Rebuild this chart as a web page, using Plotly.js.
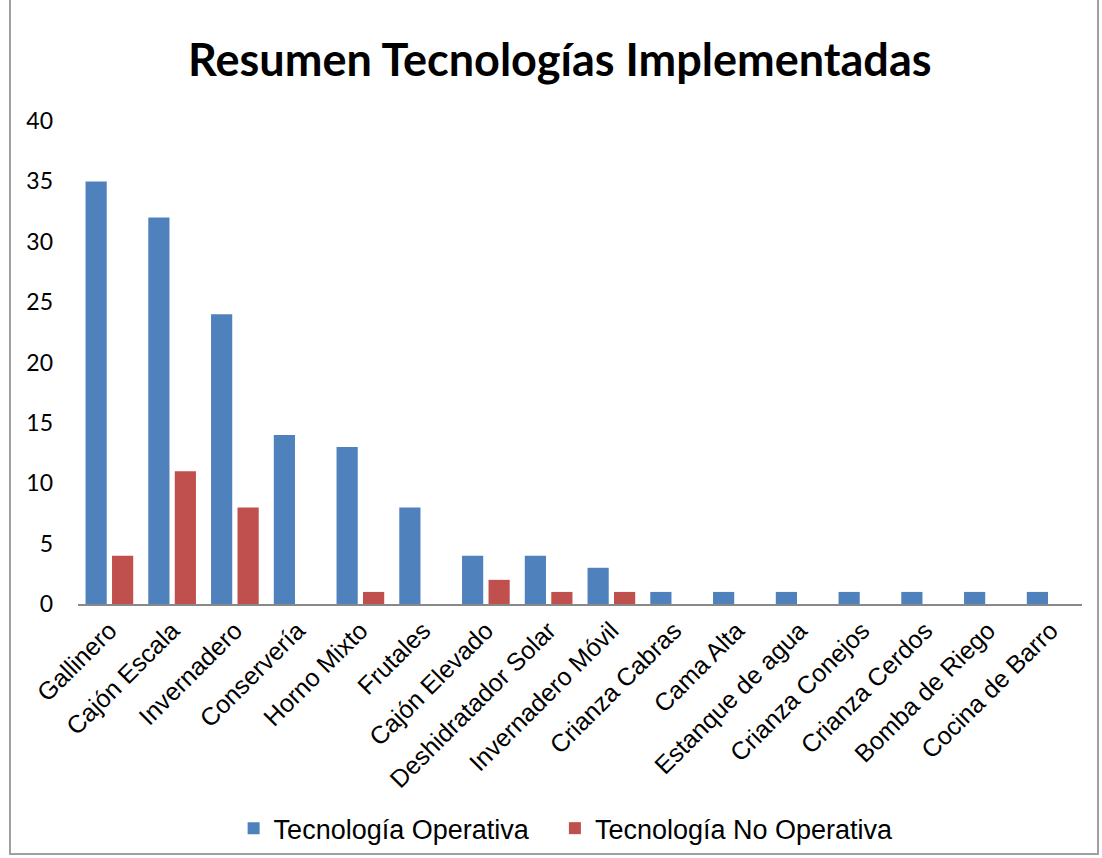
<!DOCTYPE html>
<html>
<head>
<meta charset="utf-8">
<script src="https://cdn.plot.ly/plotly-3.0.1.min.js"></script>
<style>
  html, body { margin: 0; padding: 0; background: #fff; }
  #frame { position: absolute; left: 9px; top: -2px; width: 1090px; height: 857px; border: 2px solid #a0a0a0; box-sizing: border-box; pointer-events: none; }
  #chart { width: 1102px; height: 858px; }
</style>
</head>
<body>
<div id="chart"></div>
<div id="frame"></div>
<script>
const categories = ["Gallinero", "Cajón Escala", "Invernadero", "Conservería", "Horno Mixto", "Frutales", "Cajón Elevado", "Deshidratador Solar", "Invernadero Móvil", "Crianza Cabras", "Cama Alta", "Estanque de agua", "Crianza Conejos", "Crianza Cerdos", "Bomba de Riego", "Cocina de Barro"];
const operativa = [35, 32, 24, 14, 13, 8, 4, 4, 3, 1, 1, 1, 1, 1, 1, 1];
const noOperativa = [4, 11, 8, 0, 1, 0, 2, 1, 1, 0, 0, 0, 0, 0, 0, 0];
const yTicks = [0, 5, 10, 15, 20, 25, 30, 35, 40];

const traces = [
  { type: "bar", name: "Tecnología Operativa", x: categories, y: operativa, legend: "legend",
    marker: { color: "#4f81bd", line: { width: 0 } } },
  { type: "bar", name: "Tecnología No Operativa", x: categories, y: noOperativa, legend: "legend2",
    marker: { color: "#c0504d", line: { width: 0 } } }
];

const legendFont = { family: "Liberation Sans, Arial, sans-serif", size: 27, color: "#000" };

const layout = {
  width: 1102, height: 858,
  margin: { l: 78, r: 20, t: 121, b: 254, autoexpand: false },
  paper_bgcolor: "#fff", plot_bgcolor: "#fff",
  barmode: "group", bargap: 0.156, bargroupgap: 0.2,
  title: { text: "<b>Resumen Tecnologías Implementadas</b>", x: 0.508, xanchor: "center", y: 0.93, yanchor: "middle",
    font: { family: "Lato, 'Open Sans', sans-serif", size: 45, color: "#000" } },
  xaxis: { showline: true, linecolor: "#888", linewidth: 2, ticks: "", tickangle: -45, automargin: false,
    tickfont: { family: "Liberation Sans, Arial, sans-serif", size: 25, color: "#000" }, showgrid: false },
  yaxis: { range: [0, 40], tickvals: yTicks, showgrid: false, zeroline: false, showline: false, ticks: "", automargin: false,
    ticklabelstandoff: 24,
    tickfont: { family: "Lato, 'Open Sans', sans-serif", size: 23, color: "#000" } },
  legend: { orientation: "h", x: 0.155, xanchor: "left", y: -0.465, yanchor: "middle",
    font: legendFont, itemwidth: 30 },
  legend2: { orientation: "h", x: 0.475, xanchor: "left", y: -0.465, yanchor: "middle",
    font: legendFont, itemwidth: 30 },
  showlegend: true
};

Plotly.newPlot("chart", traces, layout, { displayModeBar: false, staticPlot: true });
</script>
</body>
</html>
